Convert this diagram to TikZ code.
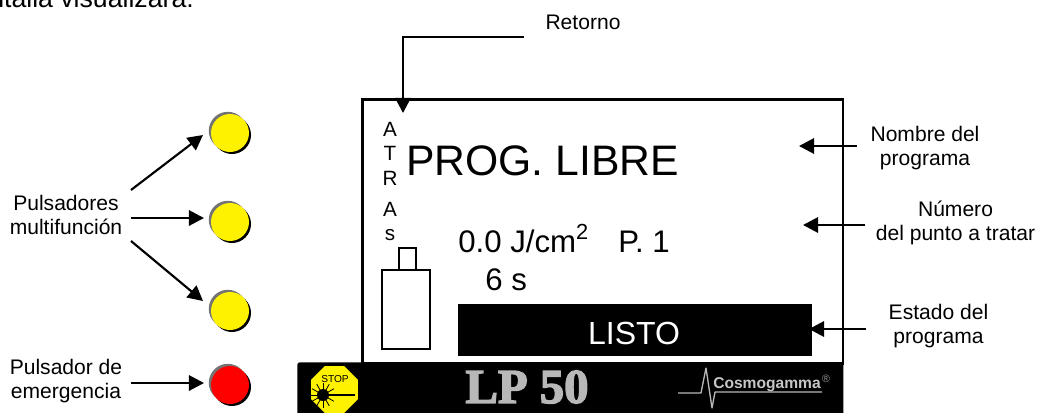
\documentclass[tikz,border=0pt]{standalone}
\usepackage{fontspec}
\setmainfont{Liberation Sans}
\newfontfamily\logofont[BoldFont={Liberation Serif Bold},BoldFeatures={FakeBold=3}]{Liberation Serif}
\usetikzlibrary{arrows.meta,shapes.geometric}
\newcommand{\sz}[2]{\fontsize{#1}{#2}\selectfont}
\tikzset{
  x=0.75pt,y=-0.75pt,
  lab/.style={inner sep=0pt,align=center,text=black,font=\sz{15.8}{18}},
  atr/.style={inner sep=0pt,text=black,font=\sz{15.5}{18}},
  big/.style={inner sep=0pt,anchor=base west,text=black},
  arr/.style={line width=1.6pt,-{Triangle[length=11.3pt,width=11.5pt]}},
  boxline/.style={draw=black,line width=2pt,fill=white},
  thinbox/.style={draw=black,line width=1.5pt,fill=white},
  logoline/.style={draw=black!28,line width=1pt},
}
\newcommand{\pbutton}[4]{%
  \fill[black!55] (#2-2.2,#3-2.2) circle (19);
  \fill[black] (#2+2,#3+2) circle (19);
  \node[circle,fill=#4,minimum size=28.5pt,inner sep=0pt] (#1) at (#2,#3) {};
}
\begin{document}
\begin{tikzpicture}
\useasboundingbox (0,0) rectangle (1038,412);
\begin{scope}
\clip (0,0) rectangle (1038,412);
\fill[white] (0,0) rectangle (1038,412);

\node[big,font=\sz{20}{24}] (top) at (-11,7) {ntalla visualizará:};

% screen
\node[boxline,minimum width=360.5pt,minimum height=198pt,inner sep=0pt,anchor=north west] (screen) at (361,98) {};

\foreach \nm/\ch/\yy in {a1/A/129,a2/T/153,a3/R/178,a4/A/209,a5/s/235}
  \node[atr] (\nm) at (390,\yy) {\ch};

\node[big,font=\sz{32}{38}] (prog) at (406,175) {PROG. LIBRE};
\node[big,font=\sz{23.4}{28}] (val) at (458,252) {0.0 J/cm\textsuperscript{2}};
\node[big,font=\sz{23.4}{28}] (pt) at (618,252) {P. 1};
\node[big,font=\sz{23.4}{28}] (sec) at (485,290) {6 s};

% bottle
\node[thinbox,minimum width=13pt,minimum height=17pt,inner sep=0pt,anchor=north west] (neck) at (397.5,246.5) {};
\node[thinbox,minimum width=36pt,minimum height=59.5pt,inner sep=0pt,anchor=north west] (body) at (381,269) {};

% status
\node[fill=black,minimum width=265.5pt,minimum height=38.5pt,inner sep=0pt,anchor=north west] (status) at (458,304) {};
\node[inner sep=0pt,text=white,font=\sz{24}{28}] (listo) at (634,333) {LISTO};

% logo bar
\node[fill=black,rounded corners=2pt,minimum width=409.5pt,minimum height=45pt,inner sep=0pt,anchor=north west] (bar) at (297,362) {};
\node[regular polygon,regular polygon sides=8,fill=yellow,minimum size=38pt,inner sep=0pt] (stop) at (334.5,389.5) {};
\node[inner sep=0pt,text=black,font=\sz{7.6}{9}] (stoptxt) at (335,379) {STOP};
\coordinate (laser) at (323,395);
\coordinate (laserend) at (355,395);
\draw[black,line width=0.8pt] (laser) -- (laserend);
\fill[black] (laser) circle (6);
\foreach \ang in {30,60,...,330}
  \draw[black,line width=0.6pt] (laser) -- ++(\ang:12.5);
\node[inner sep=0pt,text=black!28,font=\logofont\bfseries\sz{36.5}{40}] (lp) at (527,387) {LP 50};
\node[inner sep=0pt,text=black!22,font=\bfseries\sz{11.7}{14}] (cosmo) at (767,384.5) {Cosmogamma};
\node[inner sep=0pt,text=black!40,font=\sz{8}{9}] (reg) at (826,379) {®};
\coordinate (p0) at (678,393);
\coordinate (p1) at (701,393);
\coordinate (p2) at (706,368);
\coordinate (p3) at (712,408);
\coordinate (p4) at (715,392);
\coordinate (p5) at (822,392);
\draw[logoline,line join=round] (p0) -- (p1) -- (p2) -- (p3) -- (p4) -- (p5);

% buttons
\pbutton{b1}{230}{133}{yellow}
\pbutton{b2}{230}{222}{yellow}
\pbutton{b3}{230}{311}{yellow}
\pbutton{b4}{230}{385}{red}

% labels
\node[lab] (puls) at (66,215) {Pulsadores\\multifunción};
\node[lab] (emer) at (66,381) {Pulsador de\\emergencia};
\node[lab] (ret) at (583,22) {Retorno};
\node[lab] (nom) at (925,148) {Nombre del\\programa};
\node[lab] (num) at (955.5,222.5) {Número\\del punto a tratar};
\node[lab] (est) at (938.5,326) {Estado del\\programa};

% connectors
\coordinate (a0) at (524,37);
\coordinate (a1c) at (403,37);
\coordinate (a1e) at (403,113);
\draw[arr] (a0) -- (a1c) -- (a1e);
\coordinate (s1) at (131,190); \coordinate (e1) at (203,135);
\coordinate (s2) at (131,218); \coordinate (e2) at (204,218);
\coordinate (s3) at (131,241); \coordinate (e3) at (203,301);
\coordinate (s4) at (131,383); \coordinate (e4) at (204,383);
\draw[arr] (s1) -- (e1);
\draw[arr] (s2) -- (e2);
\draw[arr] (s3) -- (e3);
\draw[arr] (s4) -- (e4);
\coordinate (r1) at (857,146); \coordinate (t1) at (799,146);
\coordinate (r2) at (865,225); \coordinate (t2) at (803,225);
\coordinate (r3) at (866,329); \coordinate (t3) at (809,329);
\draw[arr] (r1) -- (t1);
\draw[arr] (r2) -- (t2);
\draw[arr] (r3) -- (t3);
\end{scope}
\end{tikzpicture}
\end{document}
